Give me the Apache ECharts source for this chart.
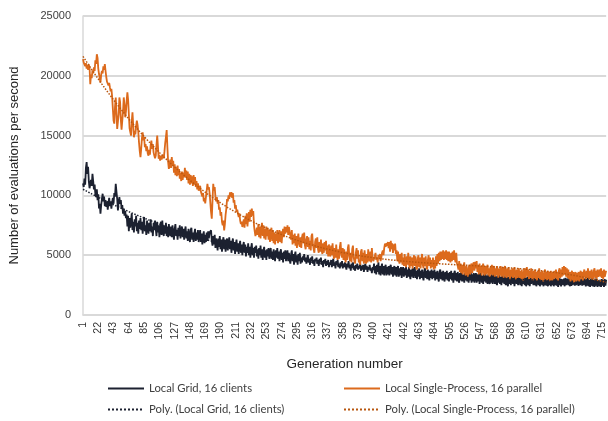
<!DOCTYPE html>
<html>
<head>
<meta charset="utf-8">
<script src="https://cdn.jsdelivr.net/npm/echarts@6/dist/echarts.min.js"></script>
<style>
  html, body { margin: 0; padding: 0; background: #ffffff; }
  #chart { width: 608px; height: 421px; }
</style>
</head>
<body>
<div id="chart"></div>
<script>
// Evaluations per second for each generation (generation 1 first)
const singleProcess = [
  21400, 21100, 21250, 20800, 21050, 20600, 20900, 20500, 20950, 20700, 19300, 20100, 19800, 20450, 20200, 20700, 20400, 21300, 21000, 21800,
  21500, 20600, 20150, 19800, 19440, 20100, 20400, 20200, 20800, 20500, 20970, 20400, 19900, 19500, 19580, 19200, 19400, 19030, 18700, 18900,
  18300, 18190, 16250, 16000, 17400, 18190, 16900, 15560, 15700, 16800, 18190, 17800, 16300, 15500, 15560, 17000, 18190, 17600, 16530, 17000,
  17900, 18610, 18000, 16800, 15600, 15300, 15000, 16200, 16940, 15900, 14860, 15400, 15100, 15800, 16250, 15900, 15300, 14400, 13700, 13190,
  13900, 14800, 15280, 14600, 14900, 14030, 14300, 13700, 14100, 13500, 13330, 13800, 13400, 14200, 14580, 13900, 14300, 13600, 13330, 13100,
  13330, 14200, 15000, 14100, 13060, 13400, 12900, 13300, 13000, 12920, 13400, 13100, 13700, 14400, 14900, 15470, 14000, 12800, 12220, 12600,
  13000, 12300, 13200, 12500, 12900, 11900, 12600, 11700, 12400, 11600, 12500, 11700, 12200, 11400, 11900, 11200, 12000, 11300, 11900, 11500,
  12300, 11500, 12080, 11300, 12000, 11000, 11800, 10900, 11700, 11000, 11600, 10800, 11700, 10900, 11530, 10700, 11200, 10500, 11000, 10400,
  10500, 10800, 10300, 10400, 9900, 10200, 9500, 9800, 9330, 9900, 10400, 10970, 10500, 10700, 10200, 9400, 8600, 8060, 9600, 10970,
  10400, 10700, 9900, 9500, 9860, 9300, 9600, 8800, 9000, 8300, 8600, 7800, 7500, 7900, 7080, 7600, 8400, 8900, 9700, 9500,
  10000, 9700, 10250, 9900, 10280, 9800, 10200, 9400, 9600, 8900, 9200, 8600, 8800, 8470, 8200, 8500, 7900, 7600, 7800, 7360,
  7360, 8000, 7300, 8300, 7600, 8500, 7400, 8100, 8600, 7800, 8800, 8200, 8890, 8300, 8700, 7500, 7000, 6600, 6530, 7300,
  6700, 7600, 6500, 7400, 6400, 7300, 7700, 6600, 7500, 6400, 7200, 6300, 7400, 6600, 7300, 6300, 7100, 6100, 6900, 7300,
  6200, 7100, 6000, 6900, 5900, 6800, 6200, 7100, 6000, 6600, 7100, 6100, 7000, 6000, 6800, 7200, 6500, 7400, 6800, 7350,
  6900, 7500, 6700, 7360, 7500, 6600, 6300, 7100, 5900, 6700, 6000, 6800, 5800, 6600, 5600, 6400, 6800, 5900, 5700, 6500,
  5600, 6500, 6800, 6000, 6900, 5800, 5500, 6300, 6600, 5700, 6500, 5500, 6200, 5400, 6600, 6800, 5900, 5500, 5200, 6100,
  6400, 5600, 6500, 5500, 5200, 6100, 5300, 6300, 5400, 5100, 6000, 5200, 6100, 5400, 6200, 5100, 5800, 4900, 5900, 5100,
  4900, 5800, 5000, 6000, 5100, 4700, 5600, 4800, 5900, 5000, 4600, 5500, 4700, 5700, 6100, 5100, 4800, 5600, 4600, 5500,
  4800, 4400, 5300, 4600, 5600, 5900, 4900, 4500, 5200, 4400, 5500, 5800, 4800, 4500, 4300, 5200, 5600, 4700, 5400, 4400,
  4600, 4200, 5300, 5500, 4500, 5200, 4300, 5400, 4600, 4300, 5100, 4400, 5500, 4700, 4500, 5300, 4400, 5600, 4800, 4500,
  4500, 4900, 5200, 4600, 4800, 4400, 5000, 4700, 5100, 4500, 4800, 5200, 5400, 5000, 5600, 5970, 5700, 6000, 5800, 6100,
  5600, 6100, 5300, 6200, 5500, 6000, 5200, 5900, 5400, 5970, 5100, 5400, 4500, 5300, 4600, 4300, 5100, 4400, 5200, 4200,
  4800, 4100, 5100, 4300, 4000, 4900, 4200, 5200, 4300, 3900, 4900, 4100, 4800, 3900, 4700, 5000, 4100, 4900, 4000, 3800,
  4700, 5000, 4000, 4800, 3900, 4700, 5100, 4200, 3900, 4800, 4100, 4900, 4000, 3800, 4600, 5000, 4100, 4800, 3900, 4600,
  4000, 4800, 3800, 4600, 3900, 4900, 4100, 5100, 4300, 5200, 4500, 5300, 4600, 5300, 4700, 5400, 4600, 5300, 4700, 5400,
  4600, 5300, 4500, 5300, 4700, 4400, 5200, 4500, 5300, 4600, 5400, 4700, 4400, 5200, 4300, 4100, 3800, 4500, 3600, 4300,
  3500, 4200, 3400, 4100, 4400, 3500, 3300, 4100, 3400, 3200, 4000, 4200, 3400, 4100, 4300, 3500, 4200, 4400, 3700, 4440,
  3900, 4500, 3600, 4200, 3400, 4300, 3500, 4100, 3300, 4000, 4300, 3500, 3300, 4100, 3400, 4000, 4200, 3300, 3900, 3200,
  4000, 3400, 4200, 3300, 3900, 4100, 3200, 3900, 3300, 4100, 3400, 3100, 3900, 3300, 4100, 3200, 3800, 4000, 3100, 3800,
  4100, 3300, 3100, 3900, 3200, 4000, 3300, 3000, 3800, 3200, 3900, 3100, 3700, 4000, 3200, 3000, 3800, 3100, 3700, 3900,
  3100, 3700, 3000, 3800, 3200, 2900, 3700, 3900, 3100, 3700, 4000, 3200, 3800, 3000, 3700, 3100, 3900, 3200, 2900, 3700,
  3100, 3800, 3000, 3600, 2900, 3700, 3100, 3900, 3000, 3600, 2900, 3700, 3100, 2800, 3600, 3800, 3000, 3600, 2900, 3700,
  3000, 3600, 2800, 3700, 3100, 2900, 3600, 3000, 3700, 3100, 3800, 3000, 3600, 2900, 3700, 3900, 3100, 3800, 3200, 4000,
  3300, 4100, 3400, 4000, 3200, 3900, 3100, 3800, 3000, 3600, 2800, 3500, 3700, 2900, 3600, 2700, 3400, 3600, 2800, 3500,
  2900, 3600, 2800, 3500, 3700, 3000, 3600, 2900, 3500, 3800, 3200, 3000, 3700, 3100, 3900, 3200, 3000, 3700, 3100, 3800,
  3200, 3000, 3700, 3900, 3100, 3700, 3000, 3800, 3200, 3100, 3800, 3200, 3900, 3100, 3700, 3000, 3800, 3200, 3100, 3700
];

const localGrid = [
  11000, 10700, 11400, 10900, 12300, 12780, 11800, 12400, 11200, 10600, 10690, 11300, 10800, 11810, 11200, 10500, 10900, 10100, 9860, 10500,
  9600, 10100, 8900, 9300, 8470, 9200, 9700, 10140, 9500, 9900, 9100, 9600, 9030, 9500, 8800, 9400, 9800, 9100, 9500, 8900,
  9400, 9800, 9300, 10200, 9900, 10970, 10300, 9700, 8750, 9500, 9860, 9300, 9600, 8900, 9200, 8470, 8900, 8300, 8700, 8100,
  8400, 7400, 8300, 7000, 8100, 7300, 7900, 8500, 7100, 7800, 6900, 8000, 7400, 8300, 7000, 7700, 6800, 7900, 7200, 8100,
  7100, 7800, 6800, 7600, 8200, 7000, 7500, 6700, 7900, 7200, 6800, 7700, 7000, 8000, 6900, 7400, 6600, 7700, 7100, 7900,
  7200, 6600, 7800, 6900, 7500, 6500, 7300, 7800, 6700, 7900, 7000, 6600, 7500, 6800, 7700, 6600, 7400, 6500, 7600, 6900,
  6600, 7400, 6500, 7500, 6800, 6300, 7200, 7600, 6600, 7100, 6300, 7300, 6600, 7500, 6400, 7000, 7400, 6500, 7200, 6300,
  7000, 7400, 6400, 7000, 6200, 7200, 6600, 6100, 7100, 7300, 6300, 6900, 6100, 6800, 7200, 6200, 6900, 6300, 7100, 6100,
  6700, 7100, 6100, 6800, 5900, 6600, 7000, 6000, 6700, 6100, 6900, 6200, 7000, 6400, 6900, 7000, 7080, 6200, 5800, 6600,
  5900, 6700, 5600, 6400, 6000, 5400, 6400, 5700, 6600, 5500, 6300, 5300, 6100, 6500, 5500, 6300, 5300, 6000, 6400, 5400,
  6000, 6500, 5500, 6200, 5200, 6000, 6400, 5400, 6100, 5100, 5900, 6300, 5300, 6000, 5100, 5800, 6200, 5200, 5900, 5000,
  5800, 6100, 5200, 5900, 4900, 5700, 5200, 6000, 5000, 5700, 4800, 5600, 6000, 5000, 5600, 4800, 5700, 5200, 5800, 4900,
  5500, 4700, 5600, 5000, 5800, 4800, 5500, 4600, 5400, 5700, 4800, 5400, 4600, 5500, 4900, 5600, 4700, 5300, 5600, 4700,
  5300, 4600, 5500, 4900, 4500, 5400, 4800, 5600, 4700, 5300, 4500, 5200, 5500, 4600, 5200, 4400, 5300, 4700, 5400, 4500,
  5100, 5400, 4500, 5200, 4600, 4300, 5100, 5400, 4500, 5100, 4200, 5000, 5300, 4400, 5000, 4200, 5100, 4500, 5200, 4300,
  4800, 4400, 4900, 4600, 5100, 4500, 4800, 4300, 4700, 5000, 4400, 4700, 4200, 4800, 4500, 4900, 4300, 4600, 4100, 4700,
  4500, 4800, 4300, 4600, 4100, 4700, 4400, 4800, 4200, 4500, 4000, 4600, 4300, 4700, 4100, 4500, 4200, 4600, 4000, 4400,
  4200, 4600, 4000, 4400, 4700, 4100, 4400, 3900, 4500, 4200, 4600, 4000, 4300, 3900, 4400, 4100, 4500, 3900, 4300, 4000,
  4400, 4100, 3800, 4300, 4000, 4500, 3900, 4200, 3700, 4300, 4000, 4400, 3800, 4100, 3700, 4200, 3900, 4300, 3800, 4100,
  3900, 4300, 3700, 4100, 3800, 4200, 3600, 4000, 4300, 3800, 4100, 3600, 4000, 3800, 4200, 3700, 3900, 3500, 4000, 3800,
  4300, 3500, 4100, 3400, 4200, 3600, 4400, 3400, 4100, 3300, 4000, 4300, 3400, 4100, 3300, 4000, 4200, 3300, 4000, 3400,
  4100, 3300, 4000, 4200, 3400, 4000, 3200, 3900, 4100, 3300, 4000, 3200, 3900, 4100, 3200, 3900, 3300, 4000, 3100, 3800,
  4000, 3200, 3900, 3300, 4000, 3100, 3800, 3200, 4000, 3300, 3000, 3800, 3200, 3900, 3100, 3800, 4000, 3100, 3700, 3000,
  3800, 3200, 3900, 3000, 3700, 3100, 3800, 3200, 2900, 3700, 3900, 3100, 3700, 3000, 3800, 3200, 2900, 3700, 3100, 3800,
  3000, 3700, 3100, 3800, 2900, 3600, 3000, 3700, 3100, 2800, 3600, 3800, 3000, 3600, 2900, 3700, 3100, 2800, 3600, 3000,
  3700, 2900, 3500, 2800, 3600, 3000, 3700, 2900, 3500, 2700, 3500, 3700, 2900, 3500, 2800, 3600, 3000, 2700, 3500, 2900,
  3600, 2800, 3400, 3330, 2700, 3500, 2900, 3600, 2800, 3400, 2700, 3500, 2900, 3600, 2700, 3400, 2800, 3500, 2700, 3300,
  3500, 2700, 3400, 2800, 3500, 2600, 3300, 3500, 2700, 3300, 2600, 3400, 2800, 3500, 2700, 3300, 2600, 3400, 2800, 2600,
  3300, 2700, 3400, 2600, 3200, 3400, 2600, 3300, 2700, 2500, 3300, 2700, 3400, 2600, 3200, 2500, 3300, 2700, 3400, 2600,
  3200, 2500, 3300, 2700, 2400, 3200, 2600, 3300, 2500, 3100, 3300, 2600, 3200, 2400, 3100, 3300, 2600, 3200, 2500, 3100,
  3300, 2500, 3100, 2400, 3200, 2600, 3300, 2500, 3100, 2400, 3000, 3200, 2500, 3100, 2400, 3200, 2600, 2640, 3100, 2500,
  3200, 2500, 3100, 2400, 3000, 3200, 2500, 3100, 2400, 3000, 3200, 2500, 3050, 2400, 3100, 2500, 3150, 2450, 3000, 2400,
  3100, 2500, 3150, 2400, 3000, 2500, 3100, 2400, 3050, 2500, 3150, 2450, 3000, 2350, 3100, 2500, 3050, 2400, 3000, 3150,
  2500, 3050, 2400, 3100, 2500, 2350, 3050, 2500, 3100, 2400, 3000, 2440, 3100, 2500, 2350, 3050, 2450, 3100, 2500, 2400,
  3050, 2440, 3100, 2500, 2350, 3000, 2450, 3100, 2500, 2350, 3050, 2400, 3000, 2450, 3100, 2400, 2950, 2350, 3050, 2450,
  3000, 2400, 2950, 2350, 3050, 2450, 3000, 2350, 2900, 3050, 2400, 2950, 2350, 3000, 2450, 2950, 2350, 3000, 2450, 2950
];

const seriesNames = [
  'Local Grid, 16 clients',
  'Local Single-Process, 16 parallel',
  'Poly. (Local Grid, 16 clients)',
  'Poly. (Local Single-Process, 16 parallel)'
];

const yTicks = { min: 0, max: 25000, step: 5000 };

// Generation numbers used as category labels (1, 2, 3, ...)
const generations = localGrid.map((_, i) => String(i + 1));

// Least-squares polynomial trend line, like a spreadsheet "Poly." trendline
function polyTrend(values, order) {
  const n = values.length;
  const m = order + 1;
  const A = Array.from({ length: m }, () => new Array(m + 1).fill(0));
  for (let i = 0; i < n; i++) {
    const t = i / (n - 1);
    const p = [];
    let v = 1;
    for (let k = 0; k < m; k++) { p.push(v); v *= t; }
    for (let r = 0; r < m; r++) {
      for (let c = 0; c < m; c++) A[r][c] += p[r] * p[c];
      A[r][m] += p[r] * values[i];
    }
  }
  for (let col = 0; col < m; col++) {
    let piv = col;
    for (let r = col + 1; r < m; r++) if (Math.abs(A[r][col]) > Math.abs(A[piv][col])) piv = r;
    [A[col], A[piv]] = [A[piv], A[col]];
    for (let r = 0; r < m; r++) {
      if (r === col) continue;
      const f = A[r][col] / A[col][col];
      for (let c = col; c <= m; c++) A[r][c] -= f * A[col][c];
    }
  }
  const coef = A.map((row, k) => row[m] / row[k]);
  return values.map((_, i) => {
    const t = i / (n - 1);
    let s = 0, v = 1;
    for (let k = 0; k < m; k++) { s += coef[k] * v; v *= t; }
    return Math.round(s);
  });
}

const gridTrend = polyTrend(localGrid, 3);
const singleTrend = polyTrend(singleProcess, 3);

const colGrid = '#1c2130';
const colSingle = '#dc6a1c';
const gridLineColor = '#d9d9d9';
const axisFont = 'Liberation Sans, Arial, sans-serif';
const legendFont = 'Lato, Liberation Sans, sans-serif';

const chart = echarts.init(document.getElementById('chart'), null, { renderer: 'canvas' });

function legendAt(name, left, top) {
  return {
    data: [name],
    left: left,
    top: top,
    orient: 'horizontal',
    itemWidth: 36,
    itemHeight: 14,
    padding: 0,
    selectedMode: false,
    itemStyle: { color: 'transparent', borderColor: 'transparent', borderWidth: 0, opacity: 0 },
    textStyle: { fontFamily: legendFont, fontSize: 11.3, color: '#404040' }
  };
}

chart.setOption({
  animation: false,
  backgroundColor: '#ffffff',
  grid: { left: 80, right: 0, top: 16, bottom: 106, containLabel: false },
  legend: [
    legendAt(seriesNames[0], 107, 383),
    legendAt(seriesNames[1], 343, 383),
    legendAt(seriesNames[2], 107, 404),
    legendAt(seriesNames[3], 343, 404)
  ],
  xAxis: {
    type: 'category',
    data: generations,
    boundaryGap: false,
    name: 'Generation number',
    nameLocation: 'middle',
    nameGap: 42,
    nameTextStyle: { fontFamily: axisFont, fontSize: 13.5, color: '#262626' },
    axisLine: { show: true, lineStyle: { color: gridLineColor, width: 1.5 } },
    axisTick: { show: false },
    axisLabel: {
      interval: 20,
      rotate: 90,
      margin: 7,
      fontFamily: axisFont,
      fontSize: 10.5,
      color: '#333333'
    },
    splitLine: { show: false }
  },
  yAxis: {
    type: 'value',
    min: yTicks.min,
    max: yTicks.max,
    interval: yTicks.step,
    name: 'Number of evaluations per second',
    nameLocation: 'middle',
    nameGap: 62,
    nameTextStyle: { fontFamily: axisFont, fontSize: 13, color: '#262626' },
    axisLine: { show: true, lineStyle: { color: gridLineColor, width: 1.5 } },
    axisTick: { show: false },
    axisLabel: {
      margin: 12, fontFamily: axisFont, fontSize: 11, color: '#404040',
      formatter: (v) => String(v)
    },
    splitLine: { show: true, lineStyle: { color: gridLineColor, width: 2 } }
  },
  series: [
    {
      name: seriesNames[0], type: 'line', data: localGrid,
      showSymbol: false, symbol: 'none',
      lineStyle: { color: colGrid, width: 1.8 }, itemStyle: { color: colGrid }
    },
    {
      name: seriesNames[1], type: 'line', data: singleProcess,
      showSymbol: false, symbol: 'none',
      lineStyle: { color: colSingle, width: 1.8 }, itemStyle: { color: colSingle }
    },
    {
      name: seriesNames[2], type: 'line', data: gridTrend,
      showSymbol: false, symbol: 'none',
      lineStyle: { color: colGrid, width: 1.5, type: 'dotted' }, itemStyle: { color: colGrid }
    },
    {
      name: seriesNames[3], type: 'line', data: singleTrend,
      showSymbol: false, symbol: 'none',
      lineStyle: { color: '#b8560f', width: 1.5, type: 'dotted' }, itemStyle: { color: '#b8560f' }
    }
  ]
});
</script>
</body>
</html>
